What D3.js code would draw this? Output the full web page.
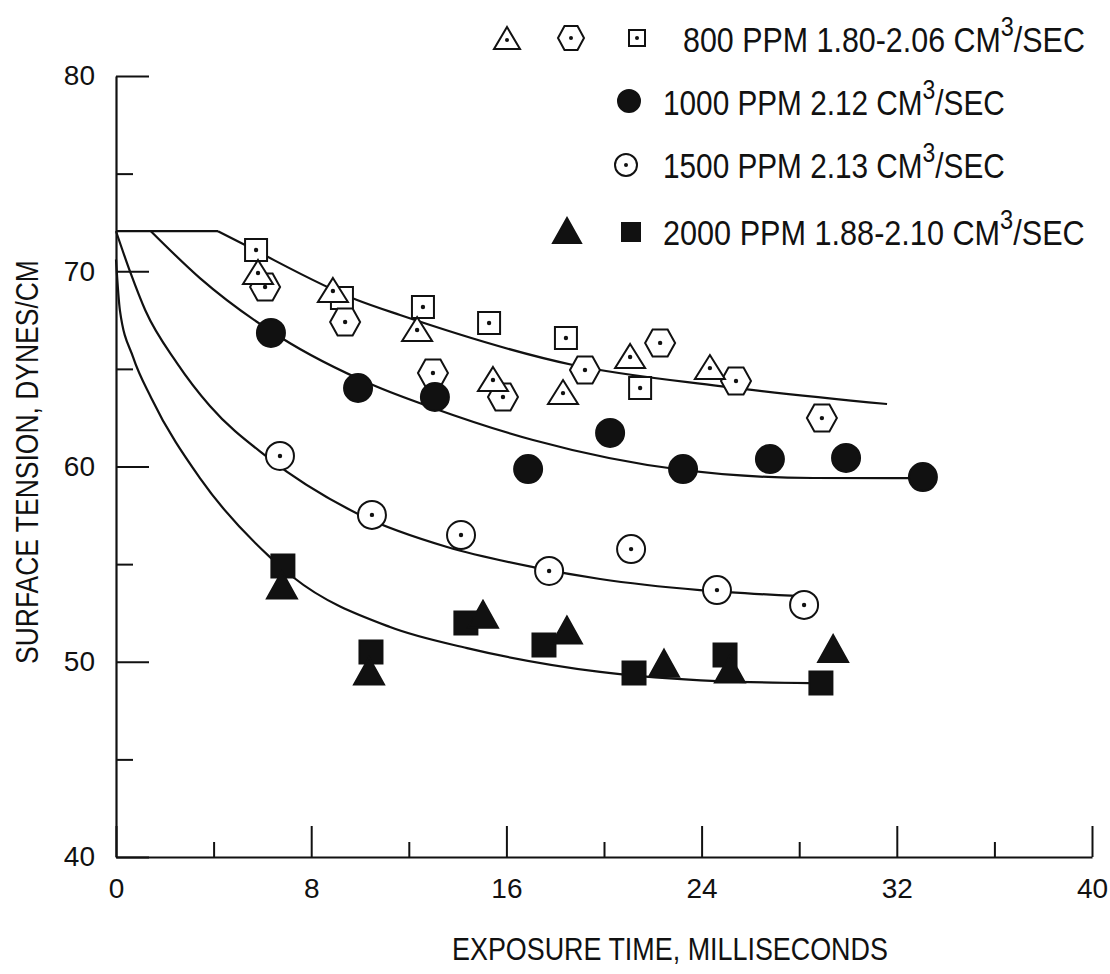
<!DOCTYPE html>
<html><head><meta charset="utf-8">
<script src="https://cdn.jsdelivr.net/npm/d3@7"></script>
<style>
body{margin:0;background:#fff}
svg{display:block}
text{font-family:"Liberation Sans Narrow","Liberation Sans",Arial,sans-serif;fill:#111}
</style>
</head><body>
<svg id="c" width="1110" height="974"></svg>
<script>
// ---------- data ----------
const xTicksMajor = [0, 8, 16, 24, 32, 40];
const xTicksMinor = [4, 12, 20, 28, 36];
const yTicksMajor = [40, 50, 60, 70, 80];
const yTicksMinor = [45, 55, 65, 75];
const xTitle = "EXPOSURE TIME, MILLISECONDS";
const yTitle = "SURFACE TENSION, DYNES/CM";
const legendLabels = ["800 PPM 1.80-2.06 CM", "1000 PPM 2.12 CM", "1500 PPM 2.13 CM", "2000 PPM 1.88-2.10 CM"];
const legendSup = "3";
const legendTail = "/SEC";

// 800 PPM (three marker types)
const ppm800Tri = [[5.82,69.91],[8.89,68.99],[12.34,66.99],[15.45,64.43],[18.32,63.76],[21.07,65.61],[24.34,65.04]];
const ppm800Hex = [[6.11,69.19],[9.39,67.40],[12.99,64.79],[15.86,63.56],[19.22,64.94],[22.30,66.33],[25.41,64.38],[28.93,62.48]];
const ppm800Sq  = [[5.74,71.09],[9.26,68.63],[12.58,68.17],[15.29,67.35],[18.44,66.58],[21.48,64.02]];
// 1000 PPM
const ppm1000 = [[6.35,66.84],[9.92,64.02],[13.07,63.56],[16.89,59.87],[20.25,61.72],[23.24,59.87],[26.80,60.38],[29.92,60.44],[33.07,59.46]];
// 1500 PPM
const ppm1500 = [[6.72,60.54],[10.49,57.52],[14.14,56.49],[17.75,54.65],[21.11,55.77],[24.63,53.67],[28.20,52.91]];
// 2000 PPM
const ppm2000Tri = [[6.80,53.8],[10.37,49.4],[15.04,52.3],[18.48,51.5],[22.46,49.8],[25.16,49.5],[29.39,50.55]];
const ppm2000Sq  = [[6.84,54.90],[10.45,50.50],[14.34,51.98],[17.54,50.86],[21.23,49.42],[24.96,50.35],[28.89,48.91]];

// fitted curves
const plateau = [[0,72.05],[4.18,72.05]];
const fit800  = [[4.18,72.05],[5.29,71.34],[9.88,68.53],[11.64,67.76],[18.73,65.2],[24.75,64.12],[31.6,63.2]];
const fit1000 = [[1.43,72.05],[3.44,69.65],[6.72,66.63],[10.53,64.17],[12.99,63.0],[17.09,61.36],[23.24,59.82],[28.57,59.41],[33.07,59.4]];
const fit1500 = [[0,72.05],[0.6,69.9],[1.2,68.0],[2.5,65.3],[3.85,63.1],[6.19,60.49],[10.0,57.52],[13.57,55.88],[17.09,54.85],[19.84,54.24],[23.93,53.67],[27.91,53.37]];
const fit2000 = [[0,70.6],[0.16,68.0],[0.7,65.6],[1.45,63.5],[3.44,59.4],[6.31,55.36],[7.25,54.34],[11.23,51.78],[14.39,50.7],[19.84,49.48],[24.63,49.01],[28.44,48.91]];

// ---------- drawing ----------
const svg = d3.select("#c");
const ink = "#111";
const x = d3.scaleLinear().domain([0, 40]).range([116, 1092]);
const y = d3.scaleLinear().domain([40, 80]).range([857, 76]);

function styleAxis(g) {
  g.select(".domain").attr("stroke", ink).attr("stroke-width", 2.2);
  g.selectAll(".tick line").attr("stroke", ink).attr("stroke-width", 2);
  g.selectAll(".tick text").attr("fill", ink).style("font-family", '"Liberation Sans",Arial,sans-serif').style("font-size", "28px");
}

// y axis
svg.append("g").attr("transform", `translate(${x(0)},0)`)
  .call(d3.axisLeft(y).tickValues(yTicksMajor).tickSizeInner(-33).tickSizeOuter(0).tickPadding(21).tickFormat(d3.format("d")))
  .call(styleAxis);
svg.append("g").attr("transform", `translate(${x(0)},0)`)
  .call(d3.axisLeft(y).tickValues(yTicksMinor).tickSizeInner(-17).tickSizeOuter(0).tickFormat(""))
  .call(styleAxis).call(g => g.select(".domain").remove());

// x axis
svg.append("g").attr("transform", `translate(0,${y(40)})`)
  .call(d3.axisBottom(x).tickValues(xTicksMajor).tickSizeInner(-31).tickSizeOuter(0).tickPadding(21).tickFormat(d3.format("d")))
  .call(styleAxis);
svg.append("g").attr("transform", `translate(0,${y(40)})`)
  .call(d3.axisBottom(x).tickValues(xTicksMinor).tickSizeInner(-15).tickSizeOuter(0).tickFormat(""))
  .call(styleAxis).call(g => g.select(".domain").remove());

// fitted curves
const lineLin = d3.line().x(d => x(d[0])).y(d => y(d[1]));
const lineCurve = d3.line().x(d => x(d[0])).y(d => y(d[1])).curve(d3.curveMonotoneX);
const curveG = svg.append("g").attr("fill", "none").attr("stroke", ink).attr("stroke-width", 2.2).attr("stroke-linejoin", "round");
curveG.append("path").attr("d", lineLin(plateau));
[fit800, fit1000, fit1500, fit2000].forEach(c => curveG.append("path").attr("d", lineCurve(c)));

// marker shapes
function triPath(w, up, down) { return `M0,${-up}L${w},${down}L${-w},${down}Z`; }
function hexPath(w, h) { return `M${-w},0L${-w/2},${-h}L${w/2},${-h}L${w},0L${w/2},${h}L${-w/2},${h}Z`; }
function sqPath(s) { return `M${-s},${-s}H${s}V${s}H${-s}Z`; }

function drawMarkers(data, pathStr, filled, dot, circleR) {
  const g = svg.append("g");
  const m = g.selectAll("g").data(data).join("g")
    .attr("transform", d => `translate(${x(d[0])},${y(d[1])})`);
  if (circleR) {
    m.append("circle").attr("r", circleR)
      .attr("fill", filled ? ink : "#fff").attr("stroke", ink).attr("stroke-width", 2);
  } else {
    m.append("path").attr("d", pathStr)
      .attr("fill", filled ? ink : "#fff").attr("stroke", ink).attr("stroke-width", 2).attr("stroke-linejoin", "miter");
  }
  if (dot) m.append("circle").attr("r", 2.2).attr("fill", ink);
}

drawMarkers(ppm800Sq, sqPath(11), false, true);
drawMarkers(ppm800Hex, hexPath(15, 13.5), false, true);
drawMarkers(ppm800Tri, triPath(15, 13, 11), false, true);
drawMarkers(ppm1000, null, true, false, 14);
drawMarkers(ppm1500, null, false, true, 14);
drawMarkers(ppm2000Sq, sqPath(11.5), true, false);
drawMarkers(ppm2000Tri, triPath(15, 16, 11), true, false);

// ---------- legend ----------
function legendSym(cx, cy, pathStr, filled, dot, r) {
  const g = svg.append("g").attr("transform", `translate(${cx},${cy})`);
  if (r) g.append("circle").attr("r", r).attr("fill", filled ? ink : "#fff").attr("stroke", ink).attr("stroke-width", 2);
  else g.append("path").attr("d", pathStr).attr("fill", filled ? ink : "#fff").attr("stroke", ink).attr("stroke-width", 2);
  if (dot) g.append("circle").attr("r", 2).attr("fill", ink);
}
legendSym(507, 40, triPath(13, 13, 9), false, true);
legendSym(571, 38, hexPath(13, 12), false, true);
legendSym(637, 38, sqPath(8), false, true);
legendSym(629, 101, null, true, false, 11);
legendSym(626, 165, null, false, true, 11);
legendSym(567, 233, triPath(14, 15, 10), true, false);
legendSym(631, 232, sqPath(9), true, false);

function fitText(t, x0, y0, w) {
  const bw = t.node().getBBox().width;
  t.attr("transform", `translate(${x0},${y0}) scale(${w / bw},1)`);
}

const legendPos = [[683, 52, 402], [663, 115, 342], [663, 178, 342], [663, 245, 422]];
legendLabels.forEach((lab, i) => {
  const t = svg.append("text").attr("x", 0).attr("y", 0).style("font-size", "35px");
  t.append("tspan").text(lab);
  t.append("tspan").attr("dy", -16).style("font-size", "27px").text(legendSup);
  t.append("tspan").attr("dy", 16).text(legendTail);
  fitText(t, legendPos[i][0], legendPos[i][1], legendPos[i][2]);
});

// axis titles
const xt = svg.append("text").style("font-size", "31px").text(xTitle);
fitText(xt, 452, 960, 436);
const ytg = svg.append("g").attr("transform", "translate(38,664) rotate(-90)");
const yt = ytg.append("text").style("font-size", "32px").text(yTitle);
fitText(yt, 0, 0, 404);
</script>
</body></html>
